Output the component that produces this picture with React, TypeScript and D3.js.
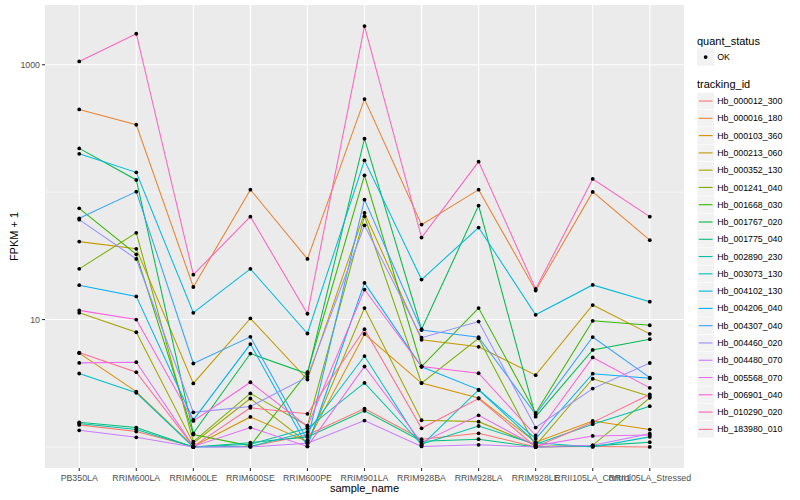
import { useEffect, useRef } from 'react';
import * as d3 from 'd3';

const samples = [
  'PB350LA', 'RRIM600LA', 'RRIM600LE', 'RRIM600SE', 'RRIM600PE', 'RRIM901LA',
  'RRIM928BA', 'RRIM928LA', 'RRIM928LE', 'RRII105LA_Control', 'RRII105LA_Stressed'
];

const trackingIds = [
  'Hb_000012_300', 'Hb_000016_180', 'Hb_000103_360', 'Hb_000213_060', 'Hb_000352_130',
  'Hb_001241_040', 'Hb_001668_030', 'Hb_001767_020', 'Hb_001775_040', 'Hb_002890_230',
  'Hb_003073_130', 'Hb_004102_130', 'Hb_004206_040', 'Hb_004307_040', 'Hb_004460_020',
  'Hb_004480_070', 'Hb_005568_070', 'Hb_006901_040', 'Hb_010290_020', 'Hb_183980_010'
];

// FPKM + 1 per tracking_id, in sample order
const hb000012_300 = [1.49, 1.32, 1.01, 1.01, 1.24, 2.0, 1.15, 1.28, 1.0, 1.01, 1.0];
const hb000016_180 = [446, 338, 18.0, 104.6, 29.9, 538, 55.6, 104.6, 16.9, 100.4, 42.0];
const hb000103_360 = [5.45, 2.72, 1.01, 1.72, 1.1, 7.7, 3.17, 2.42, 1.09, 1.6, 1.37];
const hb000213_060 = [40.9, 35.9, 3.15, 10.2, 3.38, 68.7, 6.93, 6.11, 3.66, 13.0, 7.72];
const hb000352_130 = [11.3, 7.95, 1.07, 2.4, 1.08, 12.3, 1.62, 1.58, 1.03, 3.43, 2.5];
const hb001241_040 = [25.0, 47.9, 1.1, 2.63, 1.47, 64.6, 3.17, 7.13, 1.01, 1.03, 2.43];
const hb001668_030 = [74.6, 32.5, 1.25, 1.02, 3.86, 135.5, 4.28, 12.3, 1.85, 9.78, 9.02];
const hb001767_020 = [220.5, 124.6, 1.28, 5.41, 3.75, 262.8, 8.39, 78.4, 1.73, 5.77, 7.01];
const hb001775_040 = [1.56, 1.42, 1.0, 1.08, 1.2, 1.92, 1.11, 1.15, 1.0, 1.02, 1.09];
const hb002890_230 = [1.53, 1.37, 1.0, 1.05, 1.4, 3.18, 1.05, 1.46, 1.05, 1.51, 2.09];
const hb003073_130 = [3.77, 2.66, 1.0, 1.01, 1.31, 5.17, 1.03, 2.8, 1.08, 1.0, 1.2];
const hb004102_130 = [200, 143, 11.3, 25.0, 7.77, 177.6, 20.6, 52.7, 10.9, 18.7, 13.8];
const hb004206_040 = [18.6, 15.2, 1.63, 6.42, 1.01, 19.4, 4.26, 2.82, 1.16, 3.76, 3.46];
const hb004307_040 = [62.3, 100.9, 4.52, 7.32, 1.13, 87.3, 8.27, 7.26, 1.8, 7.29, 3.5];
const hb004460_020 = [60.8, 29.9, 1.87, 2.08, 3.55, 54.9, 7.2, 9.64, 1.42, 2.87, 4.56];
const hb004480_070 = [1.35, 1.19, 1.0, 1.0, 1.07, 1.61, 1.01, 1.04, 1.0, 1.03, 1.27];
const hb005568_070 = [4.57, 4.63, 1.01, 1.42, 1.01, 4.28, 1.08, 1.77, 1.02, 1.22, 1.24];
const hb006901_040 = [11.8, 10.0, 1.6, 3.22, 1.45, 17.2, 4.28, 3.79, 1.23, 5.04, 2.91];
const hb010290_020 = [1061, 1751, 22.5, 64.2, 11.1, 2012, 44.0, 173.5, 17.4, 126.9, 64.2];
const hb183980_010 = [5.51, 3.86, 1.01, 2.03, 1.82, 8.39, 1.4, 2.4, 1.0, 1.56, 2.58];

const seriesValues = [
  hb000012_300, hb000016_180, hb000103_360, hb000213_060, hb000352_130,
  hb001241_040, hb001668_030, hb001767_020, hb001775_040, hb002890_230,
  hb003073_130, hb004102_130, hb004206_040, hb004307_040, hb004460_020,
  hb004480_070, hb005568_070, hb006901_040, hb010290_020, hb183980_010
];

const majorTicks = [10, 1000];
const minorTicks = [1, 100];

// ggplot default hue palette for 20 levels
const palette = [
  '#F8766D', '#EA8331', '#D89000', '#C09B00', '#A3A500', '#7CAE00', '#39B600',
  '#00BB4E', '#00BF7D', '#00C1A3', '#00BFC4', '#00BAE0', '#00B0F6', '#35A2FF',
  '#9590FF', '#C77CFF', '#E76BF3', '#FA62DB', '#FF62BC', '#FF6C91'
];

export default function App() {
  const svgRef = useRef<SVGSVGElement>(null);

  useEffect(() => {
    if (!svgRef.current) return;
    const svg = d3.select(svgRef.current);
    svg.selectAll('*').remove();

    const width = 800;
    const height = 500;
    const panel = { left: 45, right: 684, top: 5, bottom: 468 };
    const font = '"Liberation Sans", Arial, Helvetica, sans-serif';

    const x = d3.scalePoint<string>()
      .domain(samples)
      .range([panel.left, panel.right])
      .padding(0.6);

    const all = seriesValues.flat();
    const lo = Math.log10(d3.min(all) || 1);
    const hi = Math.log10(d3.max(all) || 10);
    const pad = (hi - lo) * 0.05;
    const y = d3.scaleLog()
      .domain([Math.pow(10, lo - pad), Math.pow(10, hi + pad)])
      .range([panel.bottom, panel.top]);

    svg.append('rect')
      .attr('width', width).attr('height', height).attr('fill', 'white');

    // panel background
    svg.append('rect')
      .attr('x', panel.left).attr('y', panel.top)
      .attr('width', panel.right - panel.left)
      .attr('height', panel.bottom - panel.top)
      .attr('fill', '#EBEBEB');

    // grid
    const grid = svg.append('g');
    grid.selectAll('.minor')
      .data(minorTicks)
      .enter().append('line')
      .attr('x1', panel.left).attr('x2', panel.right)
      .attr('y1', d => y(d)).attr('y2', d => y(d))
      .attr('stroke', 'white').attr('stroke-width', 0.55);
    grid.selectAll('.major')
      .data(majorTicks)
      .enter().append('line')
      .attr('x1', panel.left).attr('x2', panel.right)
      .attr('y1', d => y(d)).attr('y2', d => y(d))
      .attr('stroke', 'white').attr('stroke-width', 1.1);
    grid.selectAll('.vx')
      .data(samples)
      .enter().append('line')
      .attr('x1', d => x(d)!).attr('x2', d => x(d)!)
      .attr('y1', panel.top).attr('y2', panel.bottom)
      .attr('stroke', 'white').attr('stroke-width', 1.1);

    // lines
    const line = d3.line<number>()
      .x((_, i) => x(samples[i])!)
      .y(d => y(d));

    svg.append('g')
      .selectAll('path')
      .data(seriesValues)
      .enter().append('path')
      .attr('d', d => line(d))
      .attr('fill', 'none')
      .attr('stroke', (_, i) => palette[i])
      .attr('stroke-width', 1.05);

    // points
    const pts = seriesValues.flatMap(vals => vals.map((v, i) => ({ s: samples[i], v })));
    svg.append('g')
      .selectAll('circle')
      .data(pts)
      .enter().append('circle')
      .attr('cx', d => x(d.s)!)
      .attr('cy', d => y(d.v))
      .attr('r', 1.9)
      .attr('fill', 'black');

    // y axis
    const yAxis = svg.append('g');
    yAxis.selectAll('line')
      .data(majorTicks)
      .enter().append('line')
      .attr('x1', panel.left - 3).attr('x2', panel.left)
      .attr('y1', d => y(d)).attr('y2', d => y(d))
      .attr('stroke', '#333333').attr('stroke-width', 1.1);
    yAxis.selectAll('text')
      .data(majorTicks)
      .enter().append('text')
      .attr('x', panel.left - 5)
      .attr('y', d => y(d) + 3.1)
      .attr('text-anchor', 'end')
      .attr('font-family', font)
      .attr('font-size', 8.8)
      .attr('fill', '#4D4D4D')
      .text(d => String(d));

    // x axis
    const xAxis = svg.append('g');
    xAxis.selectAll('line')
      .data(samples)
      .enter().append('line')
      .attr('x1', d => x(d)!).attr('x2', d => x(d)!)
      .attr('y1', panel.bottom).attr('y2', panel.bottom + 3)
      .attr('stroke', '#333333').attr('stroke-width', 1.1);
    xAxis.selectAll('text')
      .data(samples)
      .enter().append('text')
      .attr('x', d => x(d)!)
      .attr('y', panel.bottom + 12.8)
      .attr('text-anchor', 'middle')
      .attr('font-family', font)
      .attr('font-size', 8.8)
      .attr('fill', '#4D4D4D')
      .text(d => d);

    // axis titles
    svg.append('text')
      .attr('x', (panel.left + panel.right) / 2)
      .attr('y', 492)
      .attr('text-anchor', 'middle')
      .attr('font-family', font)
      .attr('font-size', 11)
      .attr('fill', 'black')
      .text('sample_name');
    svg.append('text')
      .attr('transform', `translate(17.5,${(panel.top + panel.bottom) / 2}) rotate(-90)`)
      .attr('text-anchor', 'middle')
      .attr('font-family', font)
      .attr('font-size', 11)
      .attr('fill', 'black')
      .text('FPKM + 1');

    // legends
    const lx = 697;
    const key = 17.28;
    const legend = svg.append('g').attr('font-family', font);

    legend.append('text')
      .attr('x', lx).attr('y', 44.5)
      .attr('font-size', 11)
      .text('quant_status');
    legend.append('rect')
      .attr('x', lx).attr('y', 48.4)
      .attr('width', key).attr('height', key)
      .attr('fill', '#F2F2F2');
    legend.append('circle')
      .attr('cx', lx + key / 2).attr('cy', 48.4 + key / 2)
      .attr('r', 1.9).attr('fill', 'black');
    legend.append('text')
      .attr('x', lx + key + 3).attr('y', 48.4 + key / 2 + 3.1)
      .attr('font-size', 8.8)
      .text('OK');

    legend.append('text')
      .attr('x', lx).attr('y', 88.2)
      .attr('font-size', 11)
      .text('tracking_id');

    const items = legend.selectAll('.item')
      .data(trackingIds)
      .enter().append('g')
      .attr('transform', (_, i) => `translate(${lx},${92.4 + i * key})`);
    items.append('rect')
      .attr('width', key).attr('height', key)
      .attr('fill', '#F2F2F2')
      .attr('stroke', 'white').attr('stroke-width', 0.5);
    items.append('line')
      .attr('x1', 1.7).attr('x2', key - 1.7)
      .attr('y1', key / 2).attr('y2', key / 2)
      .attr('stroke', (_, i) => palette[i])
      .attr('stroke-width', 1.1);
    items.append('text')
      .attr('x', key + 3).attr('y', key / 2 + 3.1)
      .attr('font-size', 8.8)
      .text(d => d);
  }, []);

  return (
    <div style={{ position: 'absolute', left: 0, top: 0 }}>
      <svg ref={svgRef} width={800} height={500} style={{ display: 'block' }} />
    </div>
  );
}
